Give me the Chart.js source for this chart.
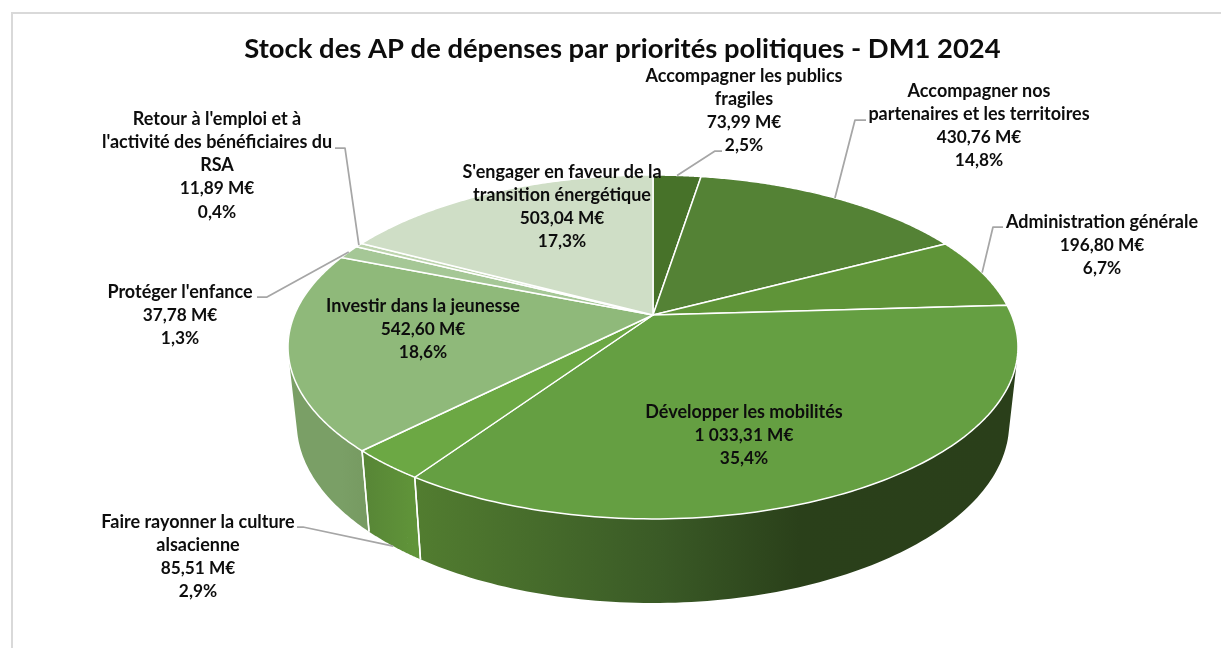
<!DOCTYPE html>
<html lang="fr">
<head>
<meta charset="utf-8">
<title>Stock des AP de dépenses</title>
<script src="https://cdn.jsdelivr.net/npm/chart.js@4"></script>
<style>
  html, body { margin: 0; height: 100%; background: #fff; overflow: hidden; }
  #frame { position: absolute; left: 11px; top: 12px; width: 1300px; height: 800px;
           border-left: 2px solid #d9d9d9; border-top: 2px solid #d9d9d9; }
  #chart { display: block; }
</style>
</head>
<body>
<div id="frame"><canvas id="chart" width="1219" height="634"></canvas></div>
<script>
const categories = [
  "Accompagner les publics fragiles",
  "Accompagner nos partenaires et les territoires",
  "Administration générale",
  "Développer les mobilités",
  "Faire rayonner la culture alsacienne",
  "Investir dans la jeunesse",
  "Protéger l'enfance",
  "Retour à l'emploi et à l'activité des bénéficiaires du RSA",
  "S'engager en faveur de la transition énergétique"
];
const values = [73.99, 430.76, 196.80, 1033.31, 85.51, 542.60, 37.78, 11.89, 503.04];
const valueLabels = ["73,99 M€", "430,76 M€", "196,80 M€", "1 033,31 M€", "85,51 M€", "542,60 M€", "37,78 M€", "11,89 M€", "503,04 M€"];
const percentLabels = ["2,5%", "14,8%", "6,7%", "35,4%", "2,9%", "18,6%", "1,3%", "0,4%", "17,3%"];
const nameLines = [
  ["Accompagner les publics", "fragiles"],
  ["Accompagner nos", "partenaires et les territoires"],
  ["Administration générale"],
  ["Développer les mobilités"],
  ["Faire rayonner la culture", "alsacienne"],
  ["Investir dans la jeunesse"],
  ["Protéger l'enfance"],
  ["Retour à l'emploi et à", "l'activité des bénéficiaires du", "RSA"],
  ["S'engager en faveur de la", "transition énergétique"]
];
const sliceColors = ["#477229", "#548235", "#5f9438", "#659f42", "#6ca844", "#8fb97a", "#a5c796", "#bdd4ae", "#cfdec6"];

// side wall gradients, left to right, only the slices facing the viewer
const wallColors = [null, null, null,
  [[0, "#527d30"], [0.415, "#3a5a26"], [0.65, "#2a401a"], [1, "#2a3f1a"]],
  [[0, "#578536"], [1, "#609439"]],
  [[0, "#7a9f66"], [1, "#779b62"]],
  null, null, null];

// page coordinates of the labels: centre x and y of the first line
const labelX = [744, 979, 1102, 744, 198, 423, 180, 217, 562];
const labelY = [76, 91, 222, 412, 522, 306, 292, 119, 172];
const lineGap = 23.3;
// leader line elbows, from the slice outwards
const leaders = [
  [[715, 151], [722, 151]],
  [[855, 120], [866, 120]],
  [[993, 227], [1003, 227]],
  null,
  [[303, 527], [297, 527]],
  null,
  [[267, 297], [257, 297]],
  [[345, 148], [335, 148]],
  null
];

// the pie is seen in perspective, so the library's angles go through a projection
const topDisc = { x: 653, y: 315, a: 358.6, q: 166, p: 0.186 };
const bottomDisc = { x: 653, y: 389.5, a: 350, q: 173.8, p: 0.186 };
const canvasLeft = 13, canvasTop = 14;

function project(disc, angle) {
  const u = Math.cos(angle), v = Math.sin(angle);
  const d = 1 - disc.p * v;
  return [disc.x + disc.a * u / d, disc.y + disc.q * v / d];
}

function drawWall(ctx, arc, stops) {
  const step = (arc.endAngle - arc.startAngle) / 120;
  const x0 = project(topDisc, arc.startAngle)[0];
  const x1 = project(topDisc, arc.endAngle)[0];
  const grad = ctx.createLinearGradient(Math.min(x0, x1), 0, Math.max(x0, x1), 0);
  stops.forEach(s => grad.addColorStop(s[0], s[1]));
  ctx.beginPath();
  for (let i = 0; i < 120; i++) {
    const a = arc.startAngle + i * step;
    const quad = [project(topDisc, a), project(topDisc, a + step), project(bottomDisc, a + step), project(bottomDisc, a)];
    // all quads need the same winding or the overlap at the silhouette cancels out
    let area = 0;
    quad.forEach((p, k) => {
      const n = quad[(k + 1) % 4];
      area += p[0] * n[1] - n[0] * p[1];
    });
    if (area < 0) quad.reverse();
    ctx.moveTo(quad[0][0], quad[0][1]);
    ctx.lineTo(quad[1][0], quad[1][1]);
    ctx.lineTo(quad[2][0], quad[2][1]);
    ctx.lineTo(quad[3][0], quad[3][1]);
    ctx.closePath();
  }
  ctx.fillStyle = grad;
  ctx.fill();
}

function drawWallEdge(ctx, angle) {
  const t = project(topDisc, angle), b = project(bottomDisc, angle);
  ctx.beginPath();
  ctx.moveTo(t[0], t[1]);
  ctx.lineTo(b[0], b[1]);
  ctx.strokeStyle = "#fff";
  ctx.lineWidth = 1.5;
  ctx.stroke();
}

function drawTop(ctx, arc) {
  ctx.beginPath();
  ctx.moveTo(topDisc.x, topDisc.y);
  const steps = 120;
  for (let i = 0; i <= steps; i++) {
    const p = project(topDisc, arc.startAngle + (arc.endAngle - arc.startAngle) * i / steps);
    ctx.lineTo(p[0], p[1]);
  }
  ctx.closePath();
  ctx.fillStyle = arc.options.backgroundColor;
  ctx.fill();
  ctx.strokeStyle = arc.options.borderColor;
  ctx.lineWidth = arc.options.borderWidth;
  ctx.lineJoin = "round";
  ctx.stroke();
}

function drawLeader(ctx, arc, elbows, disc) {
  const start = project(disc, (arc.startAngle + arc.endAngle) / 2);
  ctx.beginPath();
  ctx.moveTo(start[0], start[1]);
  elbows.forEach(p => ctx.lineTo(p[0], p[1]));
  ctx.strokeStyle = "#a6a6a6";
  ctx.lineWidth = 1.75;
  ctx.stroke();
}

const pie3d = {
  id: "pie3d",
  beforeDatasetsDraw(chart) {
    const ctx = chart.ctx;
    const arcs = chart.getDatasetMeta(0).data;
    ctx.save();
    ctx.translate(-canvasLeft, -canvasTop);
    arcs.forEach((arc, i) => { if (wallColors[i]) drawWall(ctx, arc, wallColors[i]); });
    arcs.forEach((arc, i) => {
      if (wallColors[i]) { drawWallEdge(ctx, arc.startAngle); drawWallEdge(ctx, arc.endAngle); }
    });
    arcs.forEach(arc => drawTop(ctx, arc));
    arcs.forEach((arc, i) => {
      // the culture leader lands on the lower rim, the others on the top rim
      if (leaders[i]) drawLeader(ctx, arc, leaders[i], i === 4 ? bottomDisc : topDisc);
    });
    ctx.textAlign = "center";
    ctx.textBaseline = "middle";
    ctx.fillStyle = "#0d0d0d";
    categories.forEach((name, i) => {
      const names = nameLines[i];
      ctx.font = "bold 18px Lato";
      names.forEach((line, j) => ctx.fillText(line, labelX[i], labelY[i] + j * lineGap));
      ctx.font = "bold 17.3px Lato";
      [valueLabels[i], percentLabels[i]].forEach((line, j) =>
        ctx.fillText(line, labelX[i], labelY[i] + (names.length + j) * lineGap));
    });
    ctx.restore();
    return false;
  }
};

new Chart(document.getElementById("chart"), {
  type: "pie",
  data: {
    labels: categories,
    datasets: [{ data: values, backgroundColor: sliceColors, borderColor: "#fff", borderWidth: 1.5 }]
  },
  plugins: [pie3d],
  options: {
    responsive: false,
    animation: false,
    plugins: {
      legend: { display: false },
      tooltip: { enabled: false },
      title: {
        display: true,
        text: "Stock des AP de dépenses par priorités politiques - DM1 2024",
        color: "#0d0d0d",
        font: { family: "Lato", size: 27.4, weight: "bold" },
        padding: { top: 19, bottom: 0 }
      }
    }
  }
});
</script>
</body>
</html>
